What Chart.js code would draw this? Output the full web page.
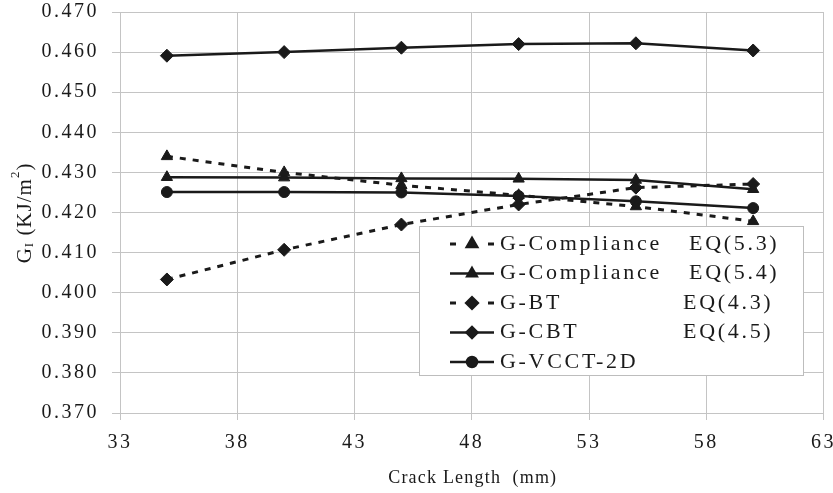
<!DOCTYPE html>
<html>
<head>
<meta charset="utf-8">
<script src="https://cdn.jsdelivr.net/npm/chart.js@4/dist/chart.umd.min.js"></script>
<style>
  html, body { margin: 0; padding: 0; background: #fff; }
  #wrap { width: 833px; height: 493px; }
</style>
</head>
<body>
<div id="wrap"><canvas id="myChart"></canvas></div>
<script>
// crack lengths (mm)
const crackLength = [35, 40, 45, 50, 55, 60];

// strain energy release rate G_I (KJ/m^2)
const gCompliance53 = [0.4340, 0.4300, 0.4268, 0.4243, 0.4215, 0.4178];
const gCompliance54 = [0.4288, 0.4287, 0.4285, 0.4284, 0.4281, 0.4258];
const gBT = [0.4033, 0.4107, 0.4170, 0.4220, 0.4262, 0.4271];
const gCBT = [0.4591, 0.4600, 0.4611, 0.4620, 0.4622, 0.4604];
const gVCCT = [0.4251, 0.4251, 0.4250, 0.4241, 0.4228, 0.4211];

const seriesNames = ["G-Compliance", "G-Compliance", "G-BT", "G-CBT", "G-VCCT-2D"];
const eqLabels = ["EQ(5.3)", "EQ(5.4)", "EQ(4.3)", "EQ(4.5)", ""];

const xTicks = [33, 38, 43, 48, 53, 58, 63];
const yMin = 0.37, yMax = 0.47, yStep = 0.01;
const xTitle = "Crack Length  (mm)";

const SERIF = "'Liberation Serif', 'Times New Roman', serif";
const INK = "#1a1a1a";
const GRID = "#c4c4c4";

function toXY(ys) {
  return crackLength.map((x, i) => ({ x: x, y: ys[i] }));
}

function series(label, ys, style, dashed) {
  return {
    label: label,
    data: toXY(ys),
    borderColor: INK,
    backgroundColor: INK,
    borderWidth: dashed ? 3 : 2.5,
    borderDash: dashed ? [6, 7] : [],
    pointStyle: style,
    pointRadius: style === "circle" ? 5.5 : 6.5,
    pointBackgroundColor: INK,
    pointBorderColor: INK,
    pointBorderWidth: 1,
    tension: 0,
  };
}

const datasets = [
  series(seriesNames[0], gCompliance53, "triangle", true),
  series(seriesNames[1], gCompliance54, "triangle", false),
  series(seriesNames[2], gBT, "rectRot", true),
  series(seriesNames[3], gCBT, "rectRot", false),
  series(seriesNames[4], gVCCT, "circle", false),
];

// canvas letter spacing for the tick labels
const spacing = {
  id: "spacing",
  beforeLayout(chart) { chart.ctx.letterSpacing = "2.5px"; },
  beforeDraw(chart) { chart.ctx.letterSpacing = "2.5px"; },
};

// axis titles; the y one has a subscript and a superscript
const axisTitles = {
  id: "axisTitles",
  afterDraw(chart) {
    const ctx = chart.ctx;
    const area = chart.chartArea;
    ctx.save();
    ctx.fillStyle = INK;
    ctx.textBaseline = "middle";

    ctx.letterSpacing = "1.2px";
    ctx.font = "18px " + SERIF;
    ctx.textAlign = "center";
    ctx.fillText(xTitle, (area.left + area.right) / 2 + 1, 478);

    const parts = [
      { t: "G", size: 21, dy: 0 },
      { t: "I", size: 13, dy: 5 },
      { t: " (KJ/m", size: 21, dy: 0 },
      { t: "2", size: 13, dy: -9 },
      { t: ")", size: 21, dy: 0 },
    ];
    ctx.letterSpacing = "1px";
    ctx.textAlign = "left";
    let total = 0;
    parts.forEach((p) => {
      ctx.font = p.size + "px " + SERIF;
      p.w = ctx.measureText(p.t).width;
      total += p.w;
    });
    ctx.translate(25, 213);
    ctx.rotate(-Math.PI / 2);
    let x = -total / 2;
    parts.forEach((p) => {
      ctx.font = p.size + "px " + SERIF;
      ctx.fillText(p.t, x, p.dy);
      x += p.w;
    });
    ctx.restore();
  },
};

// boxed legend inside the plot area, two text columns
const boxLegend = {
  id: "boxLegend",
  afterDraw(chart) {
    const ctx = chart.ctx;
    const box = { x: 419.5, y: 226.5, w: 384, h: 149 };
    ctx.save();
    ctx.fillStyle = "#fff";
    ctx.strokeStyle = "#bdbdbd";
    ctx.lineWidth = 1;
    ctx.fillRect(box.x, box.y, box.w, box.h);
    ctx.strokeRect(box.x, box.y, box.w, box.h);

    ctx.letterSpacing = "2.7px";
    ctx.font = "22px " + SERIF;
    ctx.textBaseline = "middle";
    ctx.fillStyle = INK;
    chart.data.datasets.forEach((ds, i) => {
      const y = 244 + i * 29.5;
      const x0 = 450, x1 = 494, xm = 472;
      ctx.save();
      ctx.strokeStyle = ds.borderColor;
      ctx.lineWidth = ds.borderWidth;
      if (ds.borderDash.length) {
        ctx.beginPath();
        ctx.moveTo(x0, y); ctx.lineTo(x0 + 6, y);
        ctx.moveTo(x1 - 6, y); ctx.lineTo(x1, y);
        ctx.stroke();
      } else {
        ctx.beginPath();
        ctx.moveTo(x0, y); ctx.lineTo(x1, y);
        ctx.stroke();
      }
      Chart.helpers.drawPoint(ctx, {
        pointStyle: ds.pointStyle,
        radius: ds.pointStyle === "circle" ? 5 : 5.5,
        rotation: 0,
        borderWidth: 1,
      }, xm, y);
      ctx.fillStyle = INK;
      ctx.fill();
      ctx.restore();
      ctx.fillText(seriesNames[i], 500, y);
      if (eqLabels[i]) {
        ctx.fillText(eqLabels[i], i < 2 ? 689 : 683, y);
      }
    });
    ctx.restore();
  },
};

const ctx = document.getElementById("myChart").getContext("2d");
new Chart(ctx, {
  type: "line",
  data: { datasets: datasets },
  options: {
    responsive: true,
    maintainAspectRatio: false,
    animation: false,
    layout: { padding: { top: 12, right: 9.5, left: 0, bottom: 0 } },
    plugins: { legend: { display: false }, tooltip: { enabled: false } },
    scales: {
      x: {
        type: "linear",
        min: xTicks[0],
        max: xTicks[xTicks.length - 1],
        afterBuildTicks(scale) {
          scale.ticks = xTicks.map((v) => ({ value: v }));
        },
        afterFit(scale) {
          scale.height = 80;
          scale.paddingLeft = 0;
          scale.paddingRight = 0;
        },
        grid: { color: GRID, lineWidth: 1, tickLength: 7, tickColor: GRID },
        border: { color: GRID },
        ticks: {
          color: INK,
          padding: 11,
          maxRotation: 0,
          font: { family: SERIF, size: 20 },
        },
      },
      y: {
        min: yMin,
        max: yMax,
        afterFit(scale) {
          scale.width = 120;
          scale.paddingTop = 0;
          scale.paddingBottom = 0;
        },
        ticks: {
          stepSize: yStep,
          color: INK,
          padding: 13,
          font: { family: SERIF, size: 20 },
          callback: (v) => v.toFixed(3),
        },
        grid: { color: GRID, lineWidth: 1, tickLength: 8, tickColor: GRID },
        border: { color: GRID },
      },
    },
  },
  plugins: [spacing, axisTitles, boxLegend],
});
</script>
</body>
</html>
